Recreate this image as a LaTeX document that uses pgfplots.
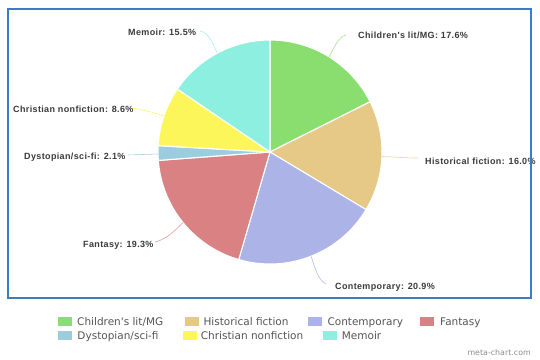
\documentclass[border=0pt]{standalone}
\usepackage{pgfplots}
\pgfplotsset{compat=1.18}
\usepackage{fontspec}
\setmainfont{Liberation Sans}
\newfontfamily\labfont[LetterSpace=4]{Liberation Sans}
\newfontfamily\legfont{DejaVu Sans}
\definecolor{cA}{HTML}{89DE6F}
\definecolor{cB}{HTML}{E6C986}
\definecolor{cC}{HTML}{ACB3E7}
\definecolor{cD}{HTML}{D98183}
\definecolor{cE}{HTML}{9CCDDE}
\definecolor{cF}{HTML}{FDF65A}
\definecolor{cG}{HTML}{8DEFDF}
\definecolor{labc}{HTML}{3A3A3A}
\definecolor{legc}{HTML}{555555}
\definecolor{framec}{HTML}{3B7DC4}
\begin{document}
\begin{tikzpicture}
\useasboundingbox (0,0) rectangle (540bp,360bp);
\begin{axis}[hide axis, x=1bp, y=1bp, xmin=0, xmax=540, ymin=0, ymax=360,
  y dir=reverse, scale only axis, clip=false, at={(0,0)}, anchor=south west]
% pie slices, clockwise from the top
\gdef\cum{0}
\foreach \v/\c in {17.6/cA,16.0/cB,20.9/cC,19.3/cD,2.1/cE,8.6/cF,15.5/cG}{%
  \pgfmathsetmacro\a{90-3.6*\cum}%
  \pgfmathsetmacro\b{\a-3.6*\v}%
  \edef\temp{\noexpand\fill[\c,draw=white,line width=1.1bp] (axis cs:270,152) -- ++(\a:112bp) arc[start angle=\a,end angle=\b,radius=112bp] -- cycle;}%
  \temp
  \pgfmathsetmacro\newcum{\cum+\v}%
  \xdef\cum{\newcum}%
}
% leader lines
\draw[cG!80!white,line width=0.6bp] (217,53) .. controls (212,40) and (207,32) .. (200,31);
\draw[cA!80!white,line width=0.6bp] (329,57) .. controls (334,48) and (338,37) .. (346,35);
\draw[cB!80!white,line width=0.6bp] (382,156.5) .. controls (395,157) and (405,158) .. (418,158);
\draw[cC!90!white,line width=0.6bp] (311,256) .. controls (315,268) and (318,280) .. (326,284);
\draw[cD!80!white,line width=0.6bp] (183,222.5) .. controls (175,231) and (165,240) .. (155,242);
\draw[cE!90!white,line width=0.6bp] (158,154) -- (128,155);
\draw[cF!90!white,line width=0.6bp] (164,116) .. controls (155,113) and (145,110) .. (132,108);
% labels
\tikzset{lab/.style={anchor=base west,inner sep=0pt,font=\labfont\bfseries\fontsize{9bp}{10bp}\selectfont,text=labc}}
\node[lab] at (128,35.3) {Memoir: 15.5\%};
\node[lab] at (358,38.3) {Children's lit/MG: 17.6\%};
\node[lab] at (425,164.2) {Historical fiction: 16.0\%};
\node[lab] at (335,289.3) {Contemporary: 20.9\%};
\node[lab] at (83,247) {Fantasy: 19.3\%};
\node[lab] at (24,159.3) {Dystopian/sci-fi: 2.1\%};
\node[lab] at (13,112.7) {Christian nonfiction: 8.6\%};
% legend
\tikzset{leg/.style={anchor=base west,inner sep=0pt,font=\legfont\fontsize{10.5bp}{12bp}\selectfont,text=legc}}
\fill[cA] (58,316.7) rectangle (72,325.7);
\node[leg] at (77,325.7) {Children's lit/MG};
\fill[cB] (185,316.7) rectangle (199,325.7);
\node[leg] at (203.3,325.7) {Historical fiction};
\fill[cC] (308.3,316.7) rectangle (322.3,325.7);
\node[leg] at (327.3,325.7) {Contemporary};
\fill[cD] (420,316.7) rectangle (434,325.7);
\node[leg] at (440,325.7) {Fantasy};
\fill[cE] (58,330.5) rectangle (72,339.5);
\node[leg] at (77.3,339.3) {Dystopian/sci-fi};
\fill[cF] (183.3,330.5) rectangle (197.3,339.5);
\node[leg] at (200.7,339.3) {Christian nonfiction};
\fill[cG] (323.3,330.5) rectangle (337.3,339.5);
\node[leg] at (341.7,339.3) {Memoir};
\node[anchor=base east,inner sep=0pt,font=\legfont\fontsize{7.9bp}{9bp}\selectfont,text=black!45] at (531,355) {meta-chart.com};
% frame
\draw[framec,line width=2bp] (8,9) rectangle (531,298);
\end{axis}
\end{tikzpicture}
\end{document}
